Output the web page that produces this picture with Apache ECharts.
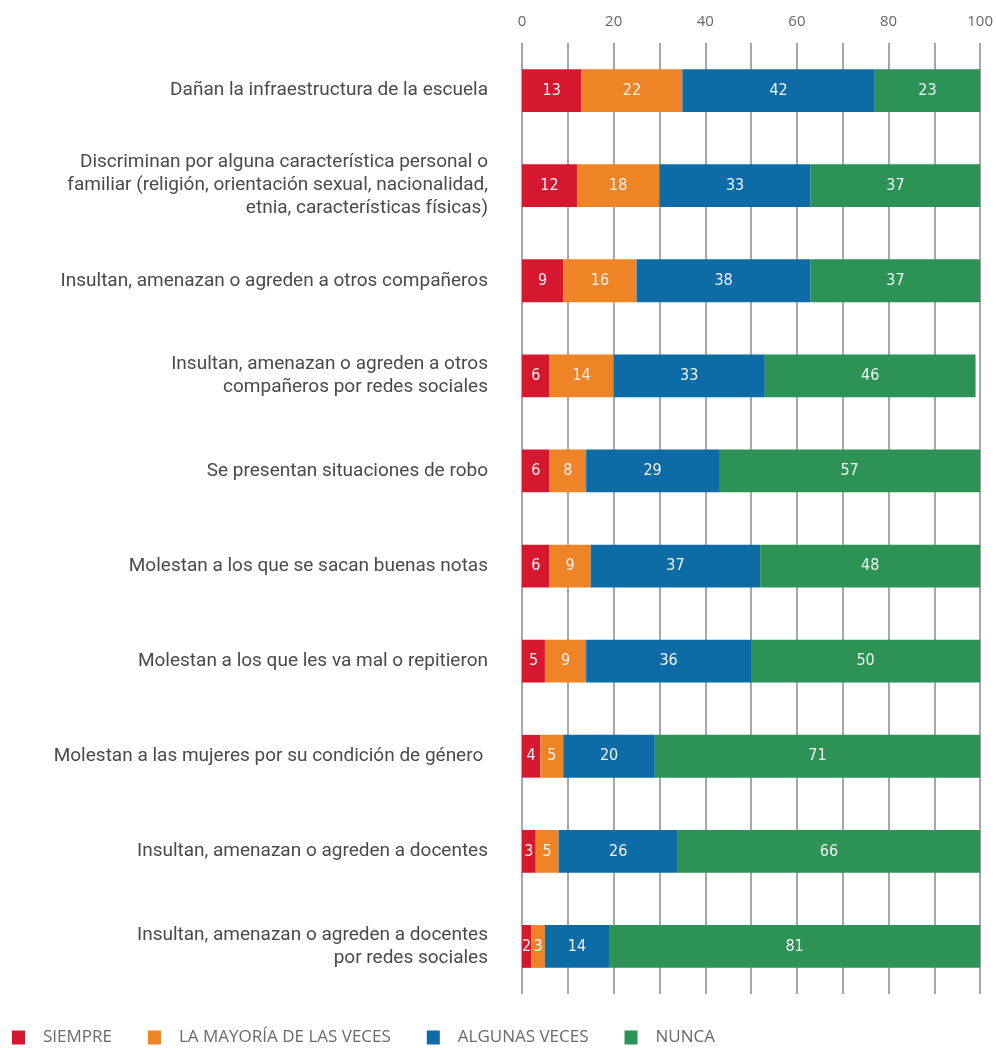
<!DOCTYPE html>
<html><head><meta charset="utf-8">
<script src="https://cdn.jsdelivr.net/npm/echarts@6/dist/echarts.min.js"></script>
<style>html,body{margin:0;padding:0;background:#fff}#c{width:996px;height:1048px}</style>
</head><body><div id="c"></div>
<script>
const categories = [
  "Dañan la infraestructura de la escuela",
  "Discriminan por alguna característica personal o\nfamiliar (religión, orientación sexual, nacionalidad,\netnia, características físicas)",
  "Insultan, amenazan o agreden a otros compañeros",
  "Insultan, amenazan o agreden a otros\ncompañeros por redes sociales",
  "Se presentan situaciones de robo",
  "Molestan a los que se sacan buenas notas",
  "Molestan a los que les va mal o repitieron",
  "Molestan a las mujeres por su condición de género ",
  "Insultan, amenazan o agreden a docentes",
  "Insultan, amenazan o agreden a docentes\npor redes sociales"
];
const seriesNames = ["SIEMPRE", "LA MAYORÍA DE LAS VECES", "ALGUNAS VECES", "NUNCA"];
const siempre = [13, 12, 9, 6, 6, 6, 5, 4, 3, 2];
const mayoria = [22, 18, 16, 14, 8, 9, 9, 5, 5, 3];
const algunas = [42, 33, 38, 33, 29, 37, 36, 20, 26, 14];
const nunca = [23, 37, 37, 46, 57, 48, 50, 71, 66, 81];
const colors = ["#d5182f", "#ef8427", "#0d6ba6", "#2d9256"];

const values = [siempre, mayoria, algunas, nunca];
const chart = echarts.init(document.getElementById('c'), null, {renderer: 'canvas'});
chart.setOption({
  animation: false,
  textStyle: {fontFamily: "Roboto, sans-serif"},
  legend: {
    top: 1029, left: 12, padding: 0, itemWidth: 13, itemHeight: 14, itemGap: 36,
    icon: 'rect',
    textStyle: {color: '#6a6a6a', fontSize: 17, padding: [0, 0, 0, 13], fontFamily: "'Open Sans', sans-serif"},
    data: seriesNames
  },
  grid: {left: 522, right: 14, top: 43, bottom: 54, containLabel: false},
  xAxis: {
    type: 'value', position: 'top', min: 0, max: 100, interval: 10,
    axisLine: {show: false}, axisTick: {show: false},
    axisLabel: {color: '#666', fontSize: 15, margin: 14,
      fontFamily: "'Open Sans', sans-serif",
      formatter: v => (v % 20 === 0 ? String(v) : '')},
    splitLine: {show: true, lineStyle: {color: '#8a8a8a', width: 1.5}}
  },
  yAxis: {
    type: 'category', inverse: true, data: categories,
    axisLine: {show: false}, axisTick: {show: false},
    axisLabel: {color: '#4a4a4a', fontSize: 19, lineHeight: 23, margin: 34, align: 'right',
      fontFamily: "Roboto, sans-serif"}
  },
  series: seriesNames.map((n, i) => ({
    name: n, type: 'bar', stack: 'total', data: values[i],
    barWidth: '45%',
    itemStyle: {color: colors[i]},
    label: {show: true, position: 'inside', color: '#f2f2f2', fontSize: 16, fontWeight: 500,
      fontFamily: "'DejaVu Sans Condensed', 'Liberation Sans Narrow', Roboto, sans-serif"}
  }))
});
</script></body></html>
